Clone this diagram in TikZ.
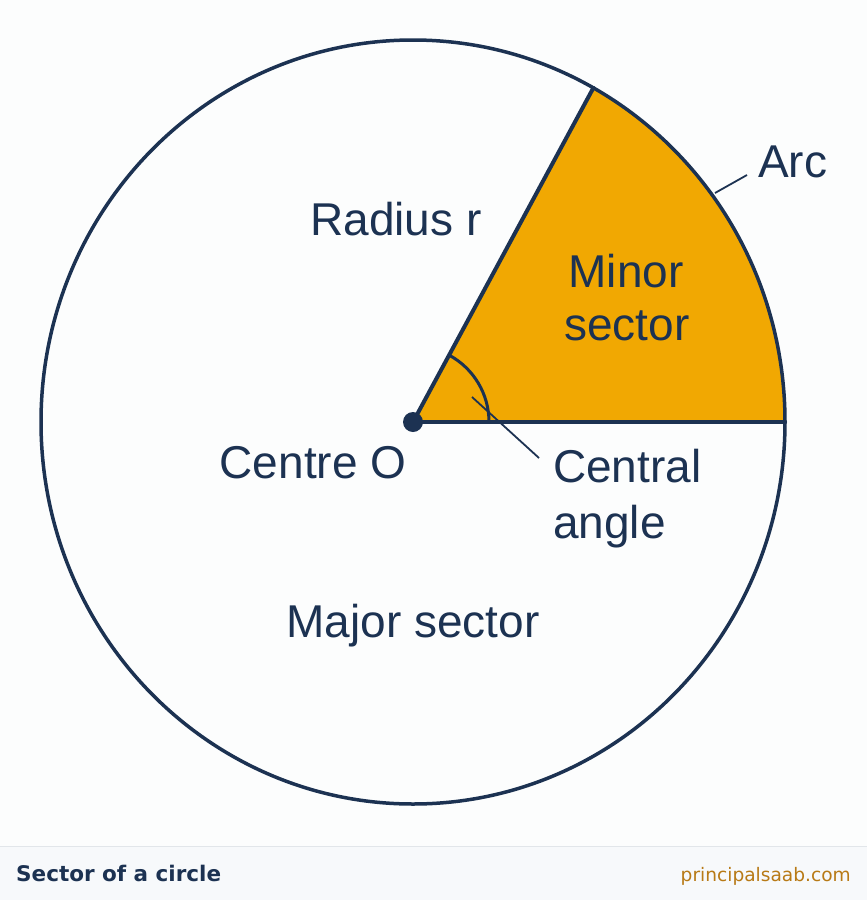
\documentclass[tikz,border=0pt]{standalone}
\usepackage{fontspec}
\setmainfont{Liberation Sans}
\newfontfamily\footfont{DejaVu Sans}
\definecolor{navy}{RGB}{28,50,82}
\definecolor{sectorfill}{RGB}{241,168,2}
\definecolor{pagebg}{RGB}{252,253,253}
\definecolor{footbg}{RGB}{247,249,251}
\definecolor{footsep}{RGB}{226,230,234}
\definecolor{sitecol}{RGB}{184,122,22}
\begin{document}
\begin{tikzpicture}[x=1pt,y=-1pt,
  outline/.style={draw=navy,line width=3.5pt},
  radline/.style={draw=navy,line width=4pt,line cap=round},
  leader/.style={draw=navy,line width=1.8pt},
  lbl/.style={text=navy,inner sep=0pt,font=\fontsize{46}{52}\selectfont},
]
\useasboundingbox (0,0) rectangle (867,900);
\fill[pagebg] (0,0) rectangle (867,900);
% footer
\fill[footbg] (0,847) rectangle (867,900);
\draw[footsep,line width=1pt] (0,846.5) -- (867,846.5);
\node[anchor=base west,inner sep=0pt,text=navy,font=\footfont\bfseries\fontsize{21.5}{24}\selectfont] (title) at (16,881) {Sector of a circle};
\node[anchor=base east,inner sep=0pt,text=sitecol,font=\footfont\fontsize{18.6}{22}\selectfont] (site) at (851,881) {principalsaab.com};

% geometry
\coordinate (O) at (413,422);
\coordinate (E) at (785,422);
% minor sector fill
\fill[sectorfill] (O) -- (E) arc[start angle=0,end angle=61,x radius=372pt,y radius=382pt] coordinate (T) -- cycle;
% circle
\draw[outline] (O) ellipse[x radius=372pt,y radius=382pt];
% radii
\draw[radline] (O) -- (E);
\draw[radline] (O) -- (T);
% angle mark
\draw[navy,line width=3pt] (489,422) arc[start angle=0,end angle=61.5,radius=76pt];
\fill[navy] (O) circle[radius=10pt];
% leaders
\coordinate (ca1) at (472,397);
\coordinate (ca2) at (539,458);
\draw[leader] (ca1) -- (ca2);
\coordinate (ar1) at (715,193);
\coordinate (ar2) at (747,175);
\draw[leader] (ar1) -- (ar2);

% labels
\node[lbl,anchor=base] (radius) at (396,235) {Radius r};
\node[lbl,anchor=base west] (arc) at (758,177) {Arc};
\node[lbl,anchor=base] (minor) at (626,287) {Minor};
\node[lbl,anchor=base] (minor2) at (627,340) {sector};
\node[lbl,anchor=base] (centre) at (313,478) {Centre O};
\node[lbl,anchor=base west] (central) at (553,482) {Central};
\node[lbl,anchor=base west] (angle) at (553,538) {angle};
\node[lbl,anchor=base] (major) at (413,637) {Major sector};
\end{tikzpicture}
\end{document}
